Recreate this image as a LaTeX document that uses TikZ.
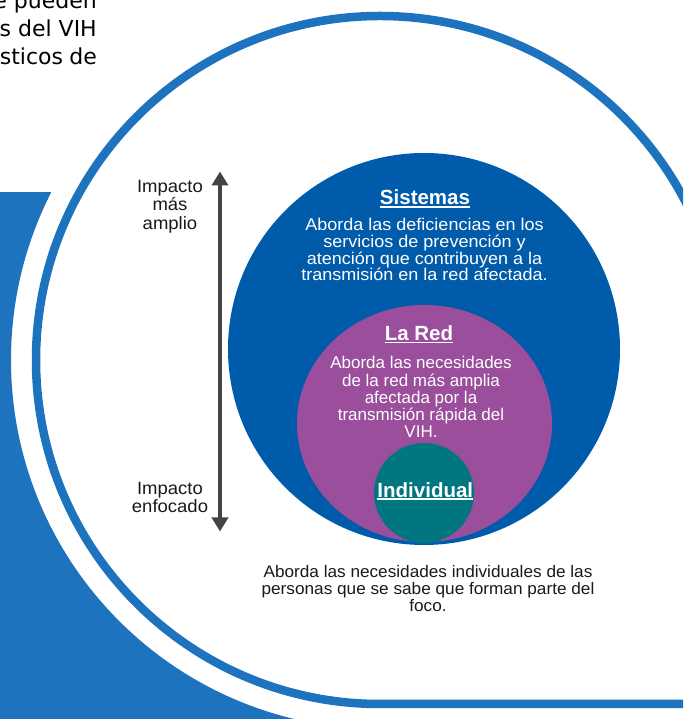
\documentclass[tikz,border=0pt]{standalone}
\usepackage{fontspec}
\setmainfont{Liberation Sans}
\newfontfamily\tahoma{DejaVu Sans}
\usetikzlibrary{arrows.meta,shapes.geometric}
\definecolor{ringblue}{RGB}{30,115,190}
\definecolor{sysblue}{RGB}{0,91,170}
\definecolor{redpurple}{RGB}{154,78,155}
\definecolor{indteal}{RGB}{0,118,128}
\definecolor{arrowgray}{RGB}{68,68,68}
\definecolor{textdark}{RGB}{25,25,25}
\newcommand{\ulw}[1]{\setbox0=\hbox{#1}\rlap{\rule[-2.6pt]{\wd0}{1.6pt}}\box0}
\tikzset{
  title/.style={anchor=base, inner sep=0, text=white, font=\bfseries\fontsize{20.5}{20.5}\selectfont},
  body/.style={anchor=base, inner sep=0, align=center},
  label/.style={anchor=base, inner sep=0, align=center, text=textdark, font=\addfontfeature{FakeStretch=1.04}\fontsize{17.8}{18.3}\selectfont},
  para/.style={anchor=base east, inner sep=0, text=black, font=\tahoma\fontsize{22}{22}\selectfont},
  disc/.style={inner sep=0, draw=none}
}
\begin{document}
\begin{tikzpicture}[x=1pt,y=1pt]
\useasboundingbox (0,0) rectangle (683,719);
\begin{scope}
  \clip (0,0) rectangle (683,719);
  \begin{scope}
    \clip (0,0) rectangle (380,526);
    \fill[ringblue,even odd rule] (-5,-5) rectangle (385,530) (380,359) circle[radius=369pt];
  \end{scope}
  \draw[ringblue,line width=8.5pt] (700,15) -- (380,15) arc[start angle=270,end angle=0,radius=344pt];
\end{scope}

% partial paragraph
\node[para] (p1) at (97,710) {e pueden};
\node[para] (p2) at (97,682.3) {s del VIH};
\node[para] (p3) at (97,654) {\makebox[97pt][s]{sticos de}};

% circles
\node[disc, circle, fill=sysblue, minimum size=392pt] (sys) at (424,370) {};
\node[disc, ellipse, fill=redpurple, minimum width=255pt, minimum height=237pt] (red) at (424.5,295.5) {};
\node[disc, circle, fill=indteal, minimum size=100pt] (ind) at (424,226) {};

% texts
\node[title] (systitle) at (425,514) {\ulw{Sistemas}};
\node[body, text=white, font=\addfontfeature{FakeStretch=1.06}\fontsize{17}{16.8}\selectfont] (systext) at (424.5,438)
  {Aborda las deficiencias en los\\servicios de prevención y\\atención que contribuyen a la\\transmisión en la red afectada.};
\node[title] (redtitle) at (419,378.3) {\ulw{La Red}};
\node[body, text=white, font=\fontsize{17}{17.2}\selectfont] (redtext) at (421,281.3)
  {Aborda las necesidades\\de la red más amplia\\afectada por la\\transmisión rápida del\\VIH.};
\node[title] (indtitle) at (425.3,221.7) {\ulw{Individual}};
\node[body, text=textdark, font=\addfontfeature{FakeStretch=1.03}\fontsize{16.7}{17}\selectfont] (indtext) at (428,107)
  {Aborda las necesidades individuales de las\\personas que se sabe que forman parte del\\foco.};

% arrow and its labels
\coordinate (atop) at (220,547.5);
\coordinate (abot) at (220,187.5);
\draw[arrowgray, line width=4.5pt, {Triangle[width=16pt,length=14pt]}-{Triangle[width=16pt,length=14pt]}] (abot) -- (atop);
\node[label] (lbltop) at (170,489.7) {Impacto\\más\\amplio};
\node[label] (lblbot) at (170,206) {Impacto\\enfocado};
\end{tikzpicture}
\end{document}
